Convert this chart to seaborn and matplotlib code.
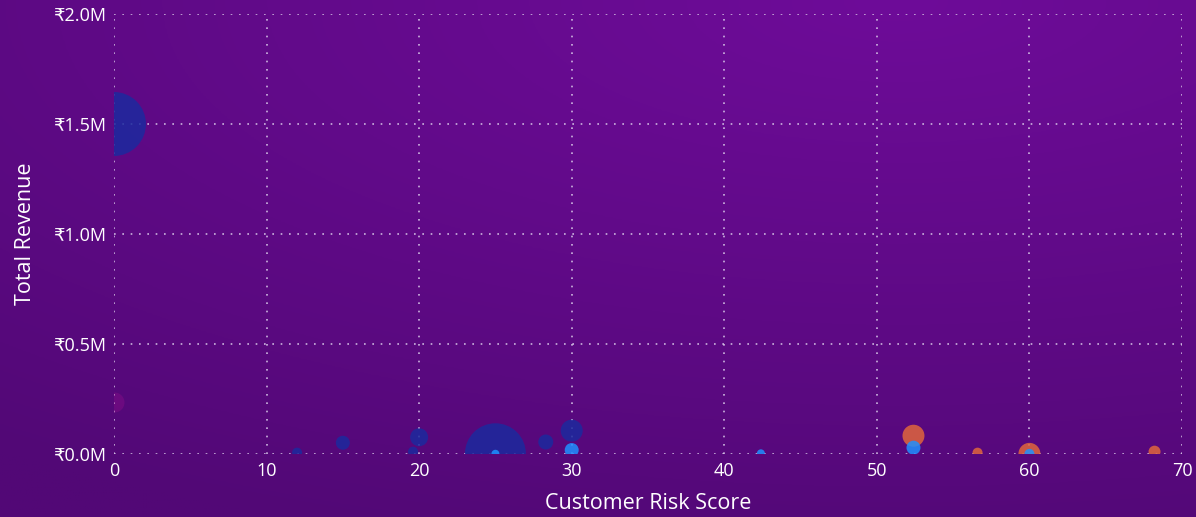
import numpy as np
import pandas as pd
import matplotlib
matplotlib.use("Agg")
import matplotlib.pyplot as plt
import seaborn as sns
from matplotlib.ticker import FuncFormatter

# data
risk_score = [0, 0, 12, 15, 20, 19.6, 25, 25, 28.3, 30, 30, 42.4, 52.4, 52.4, 56.6, 60, 60, 68.2]
revenue = [1500000, 236000, 6000, 51000, 76000, 10500, 1000, 1000, 54500, 106000, 18000, 3000,
           83000, 28600, 6000, 500, 500, 10500]
segment = ["Core", "Other", "Core", "Core", "Core", "Core", "Core", "Growth", "Core", "Core", "Growth",
           "Growth", "At Risk", "Growth", "At Risk", "At Risk", "Growth", "At Risk"]
volume = [1024, 100, 25, 49, 81, 25, 930, 16, 56, 121, 49, 16, 121, 49, 25, 121, 25, 36]

df = pd.DataFrame({"Customer Risk Score": risk_score, "Total Revenue": revenue,
                   "Segment": segment, "Volume": volume})

palette = {"Core": "#1c2a9e", "Growth": "#1f90ff", "At Risk": "#e0663c", "Other": "#a0108e"}

sns.set_theme(style="white")
plt.rcParams["font.family"] = ["Open Sans", "DejaVu Sans"]

fig = plt.figure(figsize=(11.96, 5.17), dpi=100)

# purple gradient background
bg = fig.add_axes([0, 0, 1, 1], zorder=-10)
yy, xx = np.mgrid[0:1:200j, 0:1:400j]
d = np.sqrt((xx - 0.75) ** 2 * 0.8 + (yy - 0.0) ** 2)
d = np.clip(d / 1.1, 0, 1)
c0 = np.array([0x6e, 0x0c, 0x99]) / 255
c1 = np.array([0x52, 0x08, 0x76]) / 255
img = c0[None, None, :] * (1 - d[..., None]) + c1[None, None, :] * d[..., None]
bg.imshow(img, aspect="auto", extent=[0, 1, 0, 1], origin="upper")
bg.axis("off")

ax = fig.add_axes([0.0953, 0.1219, 0.893, 0.851])
ax.patch.set_alpha(0)

main = df[df["Segment"] != "Other"]
other = df[df["Segment"] == "Other"]
sns.scatterplot(data=other, x="Customer Risk Score", y="Total Revenue", hue="Segment",
                palette=palette, size="Volume", sizes=(33, 2120), size_norm=(16, 1024),
                alpha=0.3, linewidth=0, legend=False, ax=ax)
sns.scatterplot(data=main, x="Customer Risk Score", y="Total Revenue", hue="Segment",
                palette=palette, size="Volume", sizes=(33, 2120), size_norm=(16, 1024),
                alpha=0.85, linewidth=0, legend=False, ax=ax)

ax.set_xlim(0, 70)
ax.set_ylim(0, 2000000)
ax.set_xticks(range(0, 71, 10))
ax.set_yticks([0, 500000, 1000000, 1500000, 2000000])
ax.yaxis.set_major_formatter(FuncFormatter(lambda v, p: "₹{:.1f}M".format(v / 1e6)))

ax.grid(True, color="#d8c8e8", linestyle=(0, (1, 4)), linewidth=1.2, alpha=0.9)
for s in ax.spines.values():
    s.set_visible(False)
ax.tick_params(colors="white", labelsize=13, length=0, pad=6)
ax.set_xlabel("Customer Risk Score", color="white", fontsize=15.5, fontweight="medium", labelpad=9)
ax.set_ylabel("Total Revenue", color="white", fontsize=15.5, fontweight="medium", labelpad=12)

fig.savefig("out.png", dpi=100, facecolor="#5c0a86")
